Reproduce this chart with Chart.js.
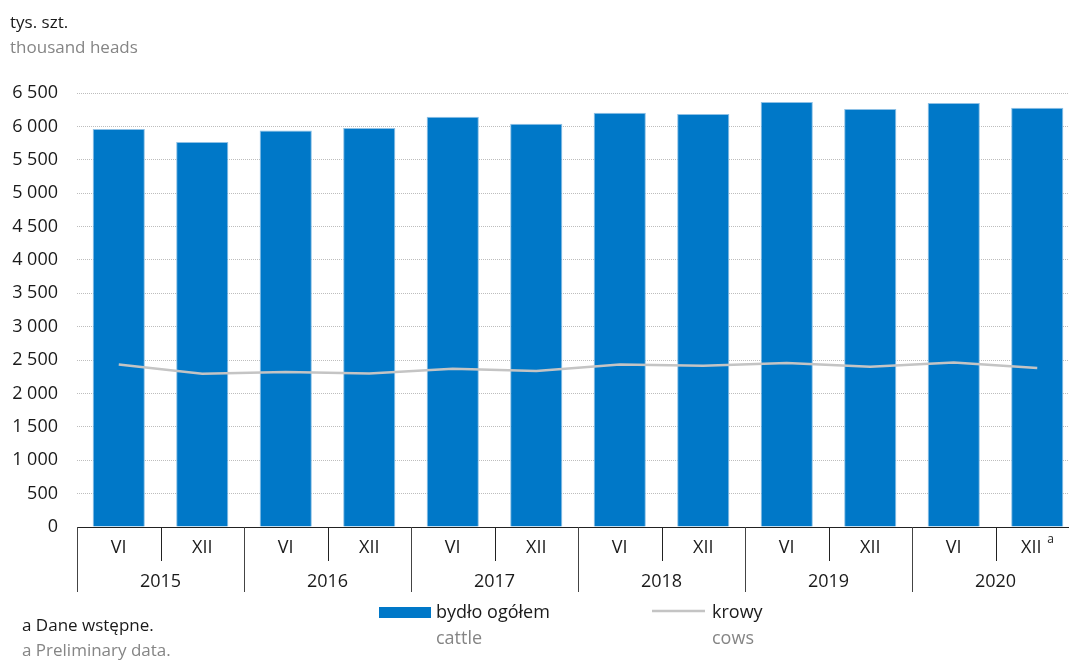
<!DOCTYPE html>
<html>
<head>
<meta charset="utf-8">
<script src="https://cdn.jsdelivr.net/npm/chart.js@4.4.1/dist/chart.umd.min.js"></script>
<style>
html,body{margin:0;padding:0;overflow:hidden;background:#fff;width:1069px;height:660px;}
canvas{display:block;position:absolute;left:0;top:0;}
</style>
</head>
<body>
<canvas id="c" width="1100" height="660"></canvas>
<script>
const months = ['VI','XII','VI','XII','VI','XII','VI','XII','VI','XII','VI','XII'];
const years = ['2015','2016','2017','2018','2019','2020'];
const categories = ['VI 2015','XII 2015','VI 2016','XII 2016','VI 2017','XII 2017','VI 2018','XII 2018','VI 2019','XII 2019','VI 2020','XII 2020'];
const cattle = [5960, 5765, 5940, 5975, 6144, 6040, 6204, 6185, 6365, 6260, 6350, 6280];
const cows = [2435, 2295, 2320, 2300, 2370, 2335, 2435, 2415, 2455, 2400, 2465, 2380];
const yTicks = [0,500,1000,1500,2000,2500,3000,3500,4000,4500,5000,5500,6000,6500];

const FONT = '"Open Sans", "Noto Sans", sans-serif';
const BLUE = '#0078c8';
const GRAYLINE = '#c4c4c4';
const TXT = '#1a1a1a';
const TXT2 = '#858585';

function fmt(v){ return String(v).replace(/\B(?=(\d{3})+(?!\d))/g,' '); }

const decor = {
  id:'decor',
  afterDraw(chart){
    const ctx = chart.ctx;
    const xs = chart.scales.x;
    const area = chart.chartArea;
    const base = area.bottom;
    const n = categories.length;
    const w = (area.right - area.left)/n;
    ctx.save();
    // baseline
    ctx.strokeStyle = '#222';
    ctx.lineWidth = 1;
    ctx.beginPath();
    ctx.moveTo(area.left, base+0.5);
    ctx.lineTo(area.right, base+0.5);
    ctx.stroke();
    // separators
    for(let i=0;i<=n;i++){
      const x = Math.round(area.left + i*w) + 0.5;
      const isYear = (i%2===0);
      ctx.strokeStyle = isYear ? '#444' : '#222';
      ctx.beginPath();
      ctx.moveTo(x, base);
      ctx.lineTo(x, isYear ? base+65 : base+34);
      ctx.stroke();
    }
    // month labels
    ctx.fillStyle = TXT;
    ctx.font = '18px ' + FONT;
    ctx.textBaseline = 'alphabetic';
    ctx.textAlign = 'center';
    for(let i=0;i<n;i++){
      const cx = xs.getPixelForValue(i);
      if(i===n-1){
        ctx.fillText(months[i], cx-6, base+26);
        ctx.font = '12px ' + FONT;
        ctx.textAlign = 'left';
        ctx.fillText('a', cx+10, base+16);
        ctx.font = '18px ' + FONT;
        ctx.textAlign = 'center';
      } else {
        ctx.fillText(months[i], cx, base+26);
      }
    }
    // year labels
    for(let j=0;j<years.length;j++){
      const cx = (xs.getPixelForValue(2*j) + xs.getPixelForValue(2*j+1))/2;
      ctx.fillText(years[j], cx, base+60);
    }
    // titles
    ctx.textAlign = 'left';
    ctx.font = '17px ' + FONT;
    ctx.fillStyle = TXT;
    ctx.fillText('tys. szt.', 10, 28);
    ctx.fillStyle = TXT2;
    ctx.fillText('thousand heads', 10, 53);
    // footnote
    ctx.fillStyle = TXT;
    ctx.fillText('a Dane wstępne.', 22, 631);
    ctx.fillStyle = TXT2;
    ctx.fillText('a Preliminary data.', 22, 656);
    // legend
    ctx.fillStyle = BLUE;
    ctx.fillRect(379, 607, 52, 11);
    ctx.strokeStyle = GRAYLINE;
    ctx.lineWidth = 2.5;
    ctx.beginPath();
    ctx.moveTo(652, 611);
    ctx.lineTo(705, 611);
    ctx.stroke();
    ctx.font = '18px ' + FONT;
    ctx.fillStyle = TXT;
    ctx.fillText('bydło ogółem', 436, 618);
    ctx.fillText('krowy', 712, 618);
    ctx.fillStyle = TXT2;
    ctx.fillText('cattle', 436, 644);
    ctx.fillText('cows', 712, 644);
    ctx.restore();
  }
};

new Chart(document.getElementById('c'), {
  data: {
    labels: categories,
    datasets: [
      {
        type:'line', label:'krowy', data: cows, order: 0,
        borderColor: GRAYLINE, borderWidth: 2.5, pointRadius: 0, tension: 0, fill:false
      },
      {
        type:'bar', label:'bydło ogółem', data: cattle, order: 1,
        backgroundColor: BLUE, borderColor: '#8ec1e6', borderWidth: 1,
        barPercentage: 0.625, categoryPercentage: 1.0
      }
    ]
  },
  options: {
    responsive:false,
    animation:false,
    events: [],
    layout:{ padding:{ left:0, top:93, right:21, bottom:133 } },
    plugins:{ legend:{display:false}, tooltip:{enabled:false} },
    scales:{
      x:{
        type:'category', offset:true,
        grid:{display:false, drawTicks:false},
        border:{display:false},
        ticks:{display:false},
        afterFit(s){ s.height = 0; }
      },
      y:{
        min:0, max:6500,
        afterBuildTicks(s){ s.ticks = yTicks.map(v=>({value:v})); },
        ticks:{ callback:(v)=>fmt(v), color: TXT, font:{family:FONT, size:18}, padding:19 },
        grid:{ color:'#bdbdbd', lineWidth:1, drawTicks:false },
        border:{ display:false, dash:[1,1] },
        afterFit(s){ s.width = 77; }
      }
    }
  },
  plugins:[decor]
});
</script>
</body>
</html>
